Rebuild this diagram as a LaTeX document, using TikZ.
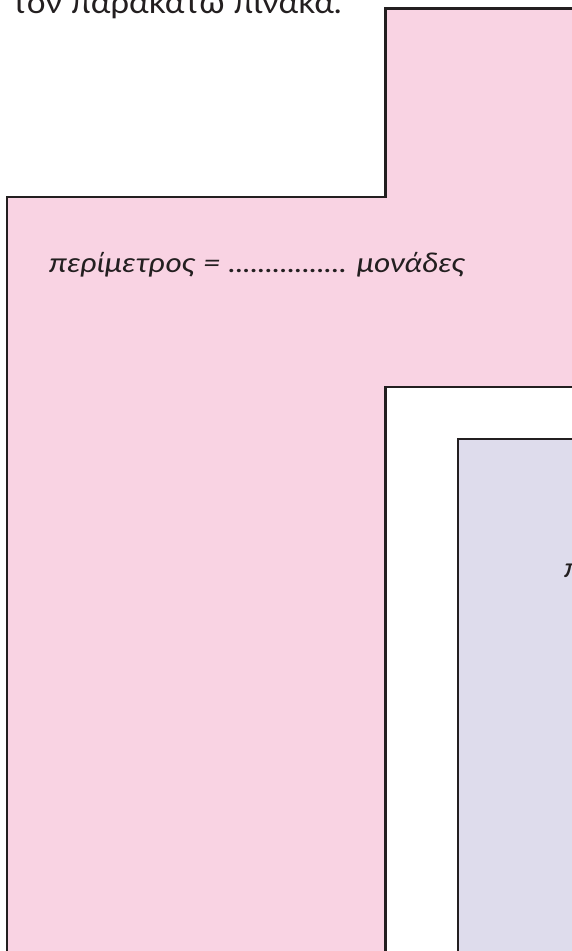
\documentclass[tikz,border=0pt]{standalone}
\usepackage{fontspec}
\setmainfont{Lato}
\newfontfamily\wideit[FakeStretch=1.17]{Lato Italic}
\newfontfamily\widerm[FakeStretch=1.07]{Lato}
\definecolor{pinkfill}{HTML}{F9D3E3}
\definecolor{lilacfill}{HTML}{DEDCEC}
\definecolor{edge}{HTML}{231F20}
\begin{document}
\begin{tikzpicture}[x=1pt,y=-1pt,
  box/.style={draw=edge,line width=2.8pt,line join=miter},
  lbl/.style={anchor=base west,inner sep=0pt,text=edge,font=\wideit\fontsize{27}{31}\selectfont}]
\useasboundingbox (0,0) rectangle (571,951);
\fill[white] (0,0) rectangle (571,951);
\filldraw[box,fill=pinkfill] (7,197) -- (385.5,197) -- (385.5,8.5) -- (590,8.5) -- (590,387) -- (385.5,387) -- (385.5,970) -- (7,970) -- cycle;
\filldraw[box,fill=lilacfill] (458,439) rectangle (600,970);
\node[anchor=base west,inner sep=0pt,text=edge,font=\widerm\fontsize{31}{35}\selectfont] (top) at (12,13) {τον παρακάτω πίνακα.};
\node[lbl] (p1) at (49,272) {περίμετρος = ................ μονάδες};
\node[lbl] (p2) at (564,577) {περίμετρος = ................ μονάδες};
\end{tikzpicture}
\end{document}
